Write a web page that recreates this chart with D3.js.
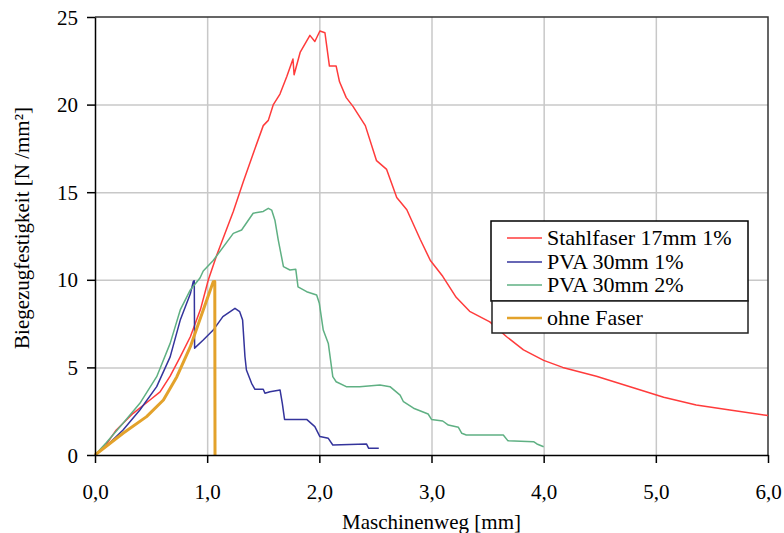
<!DOCTYPE html>
<html>
<head>
<meta charset="utf-8">
<script src="https://cdn.jsdelivr.net/npm/d3@7"></script>
<style>
    body { margin: 0; background: #fff; }
    .grid line { stroke: #c8c8c8; stroke-width: 1.5; }
    .grid path { display: none; }
    .axis path, .axis line { stroke: #000; stroke-width: 1.5; }
</style>
</head>
<body>
<svg id="chart" width="784" height="533"></svg>
<script>
// Maschinenweg [mm] / Biegezugfestigkeit [N/mm²]
var stahlfaser17 = [
    [0, 0], [0.1, 0.6], [0.19, 1.43], [0.34, 2.38], [0.49, 3.14], [0.58, 3.6],
    [0.67, 4.5], [0.76, 5.6], [0.85, 6.75], [0.94, 8.3], [1.01, 9.99], [1.085, 11.4],
    [1.233, 13.9], [1.322, 15.6], [1.41, 17.2], [1.5, 18.8], [1.545, 19.1], [1.59, 20.0],
    [1.649, 20.6], [1.71, 21.6], [1.765, 22.6], [1.775, 21.7], [1.83, 23.0], [1.916, 23.95],
    [1.96, 23.6], [2.005, 24.2], [2.05, 24.1], [2.09, 22.2], [2.15, 22.2], [2.18, 21.3],
    [2.24, 20.4], [2.3, 19.9], [2.41, 18.8], [2.51, 16.8], [2.6, 16.3], [2.69, 14.7],
    [2.78, 14.0], [2.9, 12.3], [2.99, 11.1], [3.1, 10.2], [3.22, 9.0], [3.34, 8.2],
    [3.52, 7.6], [3.67, 6.75], [3.82, 6.0], [4.0, 5.4], [4.17, 5.0], [4.47, 4.5],
    [4.77, 3.9], [5.07, 3.3], [5.36, 2.85], [5.66, 2.57], [6.0, 2.25]
];
var pva30mm1 = [
    [0, 0], [0.1, 0.5], [0.25, 1.43], [0.4, 2.57], [0.55, 3.9], [0.67, 5.6],
    [0.76, 7.7], [0.85, 9.2], [0.876, 9.9], [0.885, 9.95], [0.888, 6.1], [0.965, 6.56],
    [1.054, 7.13], [1.14, 7.9], [1.248, 8.37], [1.29, 8.18], [1.316, 7.7], [1.337, 5.61],
    [1.35, 4.85], [1.396, 4.09], [1.426, 3.75], [1.5, 3.75], [1.515, 3.52], [1.56, 3.61],
    [1.65, 3.71], [1.67, 2.95], [1.69, 2.03], [1.887, 2.03], [1.96, 1.62], [2.005, 1.05],
    [2.08, 0.95], [2.12, 0.57], [2.42, 0.63], [2.44, 0.38], [2.53, 0.38]
];
var pva30mm2 = [
    [0, 0], [0.1, 0.7], [0.25, 1.81], [0.4, 2.95], [0.55, 4.47], [0.67, 6.37],
    [0.76, 8.28], [0.85, 9.42], [0.936, 10.1], [0.965, 10.5], [1.054, 11.1], [1.233, 12.65],
    [1.307, 12.84], [1.41, 13.8], [1.5, 13.9], [1.545, 14.08], [1.575, 13.98], [1.604, 13.4],
    [1.634, 12.27], [1.68, 10.75], [1.738, 10.56], [1.79, 10.6], [1.81, 9.6], [1.887, 9.32],
    [1.976, 9.13], [2.0, 8.66], [2.035, 7.13], [2.08, 6.37], [2.12, 4.47], [2.15, 4.18],
    [2.24, 3.9], [2.36, 3.9], [2.54, 4.0], [2.63, 3.9], [2.72, 3.42], [2.75, 3.04],
    [2.84, 2.67], [2.97, 2.34], [3.0, 2.03], [3.1, 1.94], [3.15, 1.71], [3.24, 1.58],
    [3.27, 1.24], [3.31, 1.14], [3.64, 1.14], [3.68, 0.82], [3.91, 0.76], [3.94, 0.63],
    [4.0, 0.47]
];
var ohneFaser = [
    [0, 0], [0.25, 1.24], [0.46, 2.19], [0.61, 3.14], [0.73, 4.47], [0.85, 6.18],
    [0.965, 8.28], [1.054, 9.89], [1.068, 9.9], [1.07, 0]
];

var seriesNames = ['Stahlfaser 17mm 1%', 'PVA 30mm 1%', 'PVA 30mm 2%', 'ohne Faser'];
var xTicks = [0, 1, 2, 3, 4, 5, 6];
var yTicks = [0, 5, 10, 15, 20, 25];

var series = [
    { name: seriesNames[0], data: stahlfaser17, color: '#ff3b3b', width: 1.5 },
    { name: seriesNames[1], data: pva30mm1, color: '#34349c', width: 1.5 },
    { name: seriesNames[2], data: pva30mm2, color: '#5fb083', width: 1.5 },
    { name: seriesNames[3], data: ohneFaser, color: '#e3a22b', width: 3 }
];

var FONT = '"Liberation Serif", "DejaVu Serif", "Times New Roman", serif';

var margin = { left: 95, right: 16, top: 17, bottom: 78 },
    width = 784 - margin.left - margin.right,
    height = 533 - margin.top - margin.bottom;

var svg = d3.select('#chart');
var g = svg.append('g')
    .attr('transform', 'translate(' + margin.left + ',' + margin.top + ')');

var x = d3.scaleLinear().domain([0, 6]).range([0, width]);
var y = d3.scaleLinear().domain([0, 25]).range([height, 0]);

var de = d3.formatLocale({ decimal: ',', thousands: '.', grouping: [3], currency: ['', '€'] });
var fmtX = de.format('.1f');

// grid lines
g.append('g')
    .attr('class', 'grid')
    .attr('transform', 'translate(0,' + height + ')')
    .call(d3.axisBottom(x).tickValues(xTicks.slice(1, -1)).tickSize(-height).tickFormat(''));
g.append('g')
    .attr('class', 'grid')
    .call(d3.axisLeft(y).tickValues(yTicks.slice(1, -1)).tickSize(-width).tickFormat(''));

// frame top / right
g.append('path')
    .attr('d', 'M0,0H' + width + 'V' + height)
    .attr('fill', 'none')
    .attr('stroke', '#333')
    .attr('stroke-width', 1.5);

var line = d3.line()
    .x(function(d) { return x(d[0]); })
    .y(function(d) { return y(d[1]); });

g.selectAll('.series')
    .data(series)
    .enter().append('path')
    .attr('class', 'series')
    .attr('d', function(d) { return line(d.data); })
    .attr('fill', 'none')
    .attr('stroke', function(d) { return d.color; })
    .attr('stroke-width', function(d) { return d.width; })
    .attr('stroke-linejoin', 'round');

// axes
var xAxis = g.append('g')
    .attr('class', 'axis')
    .attr('transform', 'translate(0,' + height + ')')
    .call(d3.axisBottom(x).tickValues(xTicks).tickSize(8).tickSizeOuter(0).tickFormat(fmtX));
xAxis.attr('font-family', FONT).attr('font-size', 21);
xAxis.selectAll('text').attr('fill', '#000').attr('dy', null).attr('y', 44);

var yAxis = g.append('g')
    .attr('class', 'axis')
    .call(d3.axisLeft(y).tickValues(yTicks).tickSize(8).tickSizeOuter(0));
yAxis.attr('font-family', FONT).attr('font-size', 21);
yAxis.selectAll('text').attr('fill', '#000').attr('x', -17).attr('dy', '0.34em');
xAxis.select('.domain').attr('stroke-width', 2);
yAxis.select('.domain').attr('stroke-width', 2);

// axis titles
svg.append('text')
    .attr('x', margin.left + width / 2)
    .attr('y', 529)
    .attr('text-anchor', 'middle')
    .attr('font-family', FONT)
    .attr('font-size', 21)
    .text('Maschinenweg [mm]');
svg.append('text')
    .attr('transform', 'translate(29,' + (margin.top + height / 2 - 8) + ') rotate(-90)')
    .attr('text-anchor', 'middle')
    .attr('font-family', FONT)
    .attr('font-size', 21)
    .text('Biegezugfestigkeit [N /mm²]');

// legend: three fibre series in one box, reference below it
var legend = svg.append('g');
legend.append('rect')
    .attr('x', 491).attr('y', 221).attr('width', 257).attr('height', 80)
    .attr('fill', '#fff').attr('stroke', '#000').attr('stroke-width', 1.5);
legend.append('rect')
    .attr('x', 492).attr('y', 301).attr('width', 256).attr('height', 32)
    .attr('fill', '#fff').attr('stroke', '#222').attr('stroke-width', 1.5);

var rowY = [238, 262, 285, 318];
var item = legend.selectAll('.item')
    .data(series)
    .enter().append('g')
    .attr('transform', function(d, i) { return 'translate(0,' + rowY[i] + ')'; });
item.append('line')
    .attr('x1', 507).attr('x2', 542)
    .attr('stroke', function(d) { return d.color; })
    .attr('stroke-width', function(d) { return d.width === 3 ? 2.5 : 1.5; });
item.append('text')
    .attr('x', 547)
    .attr('dy', '0.34em')
    .attr('font-family', FONT)
    .attr('font-size', 22)
    .text(function(d) { return d.name; });
</script>
</body>
</html>
